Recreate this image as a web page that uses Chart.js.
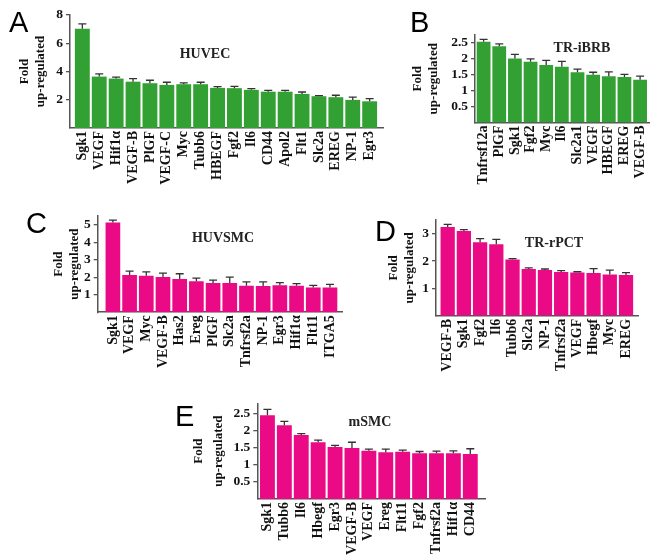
<!DOCTYPE html>
<html>
<head>
<meta charset="utf-8">
<script src="https://cdn.jsdelivr.net/npm/chart.js@4.4.1/dist/chart.umd.min.js"></script>
<style>
  html, body { margin: 0; padding: 0; background: #fff; }
  #wrap { position: relative; width: 660px; height: 556px; overflow: hidden; background: #fff; }
  canvas { position: absolute; }
  .letter { position: absolute; font-family: "Liberation Sans", Arial, sans-serif; font-size: 29px; line-height: 29px; color: #000; }
  .ptitle { position: absolute; font-family: "Liberation Serif", "Times New Roman", serif; font-weight: bold; font-size: 14px; line-height: 14px; color: #222; transform: translate(-50%, -50%); white-space: nowrap; }
</style>
</head>
<body>
<div id="wrap">
  <canvas id="cA" width="390" height="200" style="left:0px;top:0px"></canvas>
  <canvas id="cB" width="260" height="200" style="left:400px;top:0px"></canvas>
  <canvas id="cC" width="350" height="185" style="left:0px;top:205px"></canvas>
  <canvas id="cD" width="310" height="185" style="left:350px;top:205px"></canvas>
  <canvas id="cE" width="350" height="166" style="left:150px;top:390px"></canvas>

  <div class="letter" style="left:9px;top:8px">A</div>
  <div class="letter" style="left:410px;top:8px">B</div>
  <div class="letter" style="left:26px;top:209px">C</div>
  <div class="letter" style="left:375px;top:217px">D</div>
  <div class="letter" style="left:175px;top:402px">E</div>

  <div class="ptitle" style="left:205px;top:54px">HUVEC</div>
  <div class="ptitle" style="left:582px;top:48px">TR-iBRB</div>
  <div class="ptitle" style="left:223px;top:238px">HUVSMC</div>
  <div class="ptitle" style="left:554px;top:243px">TR-rPCT</div>
  <div class="ptitle" style="left:370px;top:422px">mSMC</div>
</div>
<script>
// ---------- DATA ----------
const aLabels = ['Sgk1','VEGF','Hif1\u03b1','VEGF-B','PlGF','VEGF-C','Myc','Tubb6','HBEGF','Fgf2','Il6','CD44','Apol2','Flt1','Slc2a','EREG','NP-1','Egr3'];
const aValues = [7.02,3.64,3.50,3.28,3.17,3.05,3.10,3.10,2.84,2.82,2.70,2.57,2.57,2.41,2.25,2.18,1.99,1.89];
const aErrors = [0.35,0.19,0.10,0.22,0.21,0.19,0.09,0.14,0.09,0.13,0.09,0.10,0.10,0.14,0.04,0.14,0.19,0.19];
const aTicks  = [2,4,6,8];

const bLabels = ['Tnfrsf12a','PlGF','Sgk1','Fgf2','Myc','Il6','Slc2a1','VEGF','HBEGF','EREG','VEGF-B'];
const bValues = [2.54,2.40,2.01,1.91,1.81,1.75,1.58,1.50,1.45,1.43,1.34];
const bErrors = [0.07,0.07,0.13,0.09,0.14,0.17,0.10,0.08,0.14,0.08,0.12];
const bTicks  = [0.5,1,1.5,2,2.5];

const cLabels = ['Sgk1','VEGF','Myc','VEGF-B','Has2','Ereg','PlGF','Slc2a','Tnfrsf2a','NP-1','Egr3','Hif1\u03b1','Flt11','ITGA5'];
const cValues = [5.14,2.13,2.09,2.01,1.90,1.77,1.67,1.67,1.51,1.50,1.54,1.51,1.42,1.42];
const cErrors = [0.13,0.22,0.22,0.23,0.30,0.18,0.17,0.34,0.23,0.24,0.15,0.12,0.12,0.17];
const cTicks  = [1,2,3,4,5];

const dLabels = ['VEGF-B','Sgk1','Fgf2','Il6','Tubb6','Slc2a','NP-1','Tnfrsf2a','VEGF','Hbegf','Myc','EREG'];
const dValues = [3.24,3.10,2.69,2.61,2.06,1.71,1.67,1.60,1.58,1.56,1.51,1.49];
const dErrors = [0.10,0.05,0.13,0.18,0.03,0.04,0.04,0.05,0.03,0.16,0.16,0.09];
const dTicks  = [1,2,3];

const eLabels = ['Sgk1','Tubb6','Il6','Hbegf','Egr3','VEGF-B','VEGF','Ereg','Flt11','Fgf2','Tnfrsf2a','Hif1\u03b1','CD44'];
const eValues = [2.45,2.16,1.87,1.66,1.52,1.49,1.41,1.37,1.38,1.34,1.34,1.34,1.32];
const eErrors = [0.17,0.11,0.04,0.06,0.05,0.17,0.05,0.09,0.05,0.05,0.06,0.07,0.15];
const eTicks  = [0.5,1,1.5,2,2.5];

const GREEN = '#33a033';
const PINK  = '#ea0a86';
const AXIS  = '#555555';
const SERIF = '"Liberation Serif", "Times New Roman", serif';

// error bar plugin: draws upward SEM bars through the y scale
const errorBars = {
  id: 'errorBars',
  afterDatasetsDraw(chart) {
    const ctx = chart.ctx;
    const meta = chart.getDatasetMeta(0);
    const ys = chart.scales.y;
    const ds = chart.data.datasets[0];
    ctx.save();
    ctx.strokeStyle = '#333';
    ctx.lineWidth = 1.3;
    meta.data.forEach((bar, i) => {
      const v = ds.data[i].y;
      const top = ys.getPixelForValue(v);
      const errY = ys.getPixelForValue(v + ds.errors[i]);
      ctx.beginPath();
      ctx.moveTo(bar.x, top);
      ctx.lineTo(bar.x, errY);
      ctx.moveTo(bar.x - 4, errY);
      ctx.lineTo(bar.x + 4, errY);
      ctx.stroke();
    });
    ctx.restore();
  }
};

function makeChart(id, p) {
  const n = p.labels.length;
  return new Chart(document.getElementById(id), {
    type: 'bar',
    data: {
      datasets: [{ data: p.values.map((v, i) => ({ x: i, y: v })), errors: p.errors,
                   backgroundColor: p.color, borderWidth: 0,
                   barPercentage: 0.88, categoryPercentage: 1.0 }]
    },
    options: {
      responsive: false,
      animation: false,
      devicePixelRatio: 1,
      events: [],
      layout: { padding: { left: 0, right: p.padRight, top: p.padTop, bottom: 0 } },
      plugins: { legend: { display: false }, tooltip: { enabled: false }, title: { display: false } },
      scales: {
        x: {
          type: 'linear',
          offset: false,
          min: -p.lo, max: n - 1 + p.hi,
          grid: { display: false, drawTicks: false },
          border: { display: true, color: AXIS, width: 1.5 },
          ticks: { autoSkip: false, minRotation: 90, maxRotation: 90, padding: 3, color: '#111',
                   font: { family: SERIF, weight: 'bold', size: 14 },
                   callback: v => p.labels[v] },
          afterBuildTicks(s) { s.ticks = p.labels.map((l, i) => ({ value: i })); },
          afterFit(s) { s.height = p.xHeight; }
        },
        y: {
          min: 0, max: p.max,
          grid: { display: true, drawOnChartArea: false, drawTicks: true, tickLength: 4, color: AXIS, lineWidth: 1.3 },
          border: { display: true, color: AXIS, width: 1.5 },
          ticks: { padding: 3, color: '#111', font: { family: SERIF, weight: 'bold', size: 13.5 },
                   callback: v => String(+v) },
          afterBuildTicks(s) { s.ticks = p.ticks.map(v => ({ value: v })); },
          title: { display: true, text: ['Fold', 'up-regulated'], color: '#111',
                   padding: { top: p.titlePad, bottom: 0 },
                   font: { family: SERIF, weight: 'bold', size: 13, lineHeight: p.titleLH + 'px' } },
          afterFit(s) { s.width = p.yWidth; }
        }
      }
    },
    plugins: [errorBars]
  });
}

makeChart('cA', { labels: aLabels, values: aValues, errors: aErrors, ticks: aTicks, color: GREEN,
  max: 8, padTop: 15, padRight: 7, xHeight: 72, yWidth: 70, titlePad: 17, titleLH: 15.7, lo: 0.73, hi: 0.79 });
makeChart('cB', { labels: bLabels, values: bValues, errors: bErrors, ticks: bTicks, color: GREEN,
  max: 2.75, padTop: 35, padRight: 2, xHeight: 77.5, yWidth: 75, titlePad: 10, titleLH: 16, lo: 0.55, hi: 0.6 });
makeChart('cC', { labels: cLabels, values: cValues, errors: cErrors, ticks: cTicks, color: PINK,
  max: 5.5, padTop: 11, padRight: 5, xHeight: 77.8, yWidth: 97.7, titlePad: 50, titleLH: 16.7, lo: 0.91, hi: 0.73 });
makeChart('cD', { labels: dLabels, values: dValues, errors: dErrors, ticks: dTicks, color: PINK,
  max: 3.5, padTop: 15, padRight: 22, xHeight: 74.2, yWidth: 86, titlePad: 35.5, titleLH: 16, lo: 0.72, hi: 0.74 });
makeChart('cE', { labels: eLabels, values: eValues, errors: eErrors, ticks: eTicks, color: PINK,
  max: 2.8, padTop: 13.3, padRight: 15, xHeight: 57, yWidth: 107.3, titlePad: 38.5, titleLH: 20, lo: 0.6, hi: 0.87 });
</script>
</body>
</html>
